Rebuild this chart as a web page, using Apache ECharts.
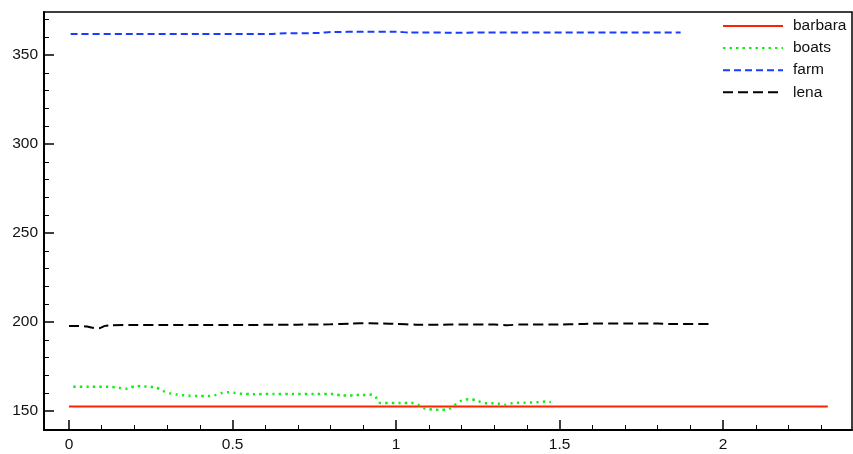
<!DOCTYPE html>
<html>
<head>
<meta charset="utf-8">
<script src="https://cdn.jsdelivr.net/npm/echarts@6/dist/echarts.min.js"></script>
<style>
  html, body { margin: 0; padding: 0; background: #fff; }
  #chart { width: 853px; height: 454px; }
</style>
</head>
<body>
<div id="chart"></div>
<script>
// Series names (legend order)
const seriesNames = ['barbara', 'boats', 'farm', 'lena'];

// barbara
const barbaraX = [0, 0.5, 1, 1.5, 2, 2.32];
const barbaraY = [152.5, 152.5, 152.5, 152.5, 152.5, 152.5];

// boats
const boatsX = [0.013, 0.06, 0.115, 0.14, 0.156, 0.176, 0.19, 0.202, 0.232, 0.25, 0.268, 0.288, 0.309, 0.33, 0.35, 0.37, 0.39, 0.426, 0.446, 0.467, 0.487, 0.505, 0.523, 0.564, 0.625, 0.686, 0.747, 0.808, 0.829, 0.854, 0.88, 0.905, 0.926, 0.941, 0.951, 1.012, 1.048, 1.068, 1.089, 1.124, 1.15, 1.165, 1.18, 1.2, 1.221, 1.242, 1.257, 1.277, 1.297, 1.316, 1.333, 1.354, 1.374, 1.394, 1.415, 1.435, 1.456, 1.473];
const boatsY = [163.6, 163.6, 163.6, 163.3, 162.9, 162.5, 163.2, 164.0, 163.8, 163.6, 163.1, 161.2, 159.9, 159.2, 158.8, 158.5, 158.4, 158.4, 158.8, 160.1, 160.5, 160.2, 159.7, 159.4, 159.6, 159.6, 159.6, 159.6, 158.8, 158.6, 159.0, 159.0, 159.2, 157.1, 154.5, 154.5, 154.5, 153.4, 151.3, 150.7, 150.7, 151.5, 153.4, 155.8, 156.6, 156.3, 155.2, 154.3, 154.3, 154.0, 153.4, 154.3, 154.6, 154.6, 154.8, 155.0, 155.3, 155.0];

// farm
const farmX = [0.005, 0.2, 0.4, 0.62, 0.66, 0.76, 0.8, 0.9, 1.0, 1.04, 1.2, 1.4, 1.6, 1.87];
const farmY = [361.8, 361.8, 361.8, 361.9, 362.2, 362.4, 362.9, 363.1, 363.1, 362.7, 362.6, 362.7, 362.7, 362.7];

// lena
const lenaX = [0, 0.03, 0.055, 0.08, 0.095, 0.11, 0.13, 0.2, 0.3, 0.4, 0.5, 0.6, 0.7, 0.8, 0.86, 0.92, 0.96, 1.0, 1.06, 1.13, 1.2, 1.3, 1.34, 1.38, 1.5, 1.56, 1.6, 1.7, 1.8, 1.84, 1.957];
const lenaY = [197.8, 197.8, 197.5, 196.5, 196.6, 197.8, 198.2, 198.3, 198.3, 198.3, 198.3, 198.4, 198.5, 198.7, 199.1, 199.3, 199.1, 198.9, 198.5, 198.5, 198.6, 198.6, 198.2, 198.6, 198.6, 198.8, 199.1, 199.1, 199.1, 198.9, 198.9];

// Tick positions / labels
const xTicks = [0, 0.5, 1, 1.5, 2];
const xMinorTicks = [0.1, 0.2, 0.3, 0.4, 0.6, 0.7, 0.8, 0.9, 1.1, 1.2, 1.3, 1.4, 1.6, 1.7, 1.8, 1.9, 2.1, 2.2, 2.3];
const yTicks = [150, 200, 250, 300, 350];
const yMinorTicks = [140, 160, 170, 180, 190, 210, 220, 230, 240, 260, 270, 280, 290, 310, 320, 330, 340, 360, 370];

const X_MIN = -0.0765, X_MAX = 2.394;
const Y_MIN = 139.3, Y_MAX = 374.2;

const FONT = 'Liberation Sans, Arial, Helvetica, sans-serif';

function pairs(xs, ys) {
  return xs.map((x, i) => [x, ys[i]]);
}

const chart = echarts.init(document.getElementById('chart'), null, { renderer: 'canvas' });

const baseAxis = {
  type: 'value',
  splitLine: { show: false },
  minorTick: { show: false },
  minorSplitLine: { show: false }
};

const option = {
  backgroundColor: '#fff',
  animation: false,
  grid: {
    left: 44, right: 1, top: 12, bottom: 24,
    show: true, borderColor: '#000', borderWidth: 1.5,
    containLabel: false
  },
  legend: {
    orient: 'vertical',
    left: 722,
    top: 18,
    padding: 0,
    itemWidth: 60,
    itemHeight: 14,
    itemGap: 6.1,
    data: seriesNames,
    itemStyle: { opacity: 0 },
    textStyle: { fontFamily: FONT, fontSize: 15.5, color: '#111', padding: [0, 0, 0, 5] }
  },
  xAxis: [
    Object.assign({}, baseAxis, {
      min: X_MIN, max: X_MAX,
      position: 'bottom',
      axisLine: { show: true, onZero: false, lineStyle: { color: '#000', width: 2 } },
      axisTick: { show: true, inside: true, length: 10, customValues: xTicks, lineStyle: { color: '#000', width: 1.5 } },
      axisLabel: { show: true, customValues: xTicks, margin: 7, fontFamily: FONT, fontSize: 15.5, color: '#111' }
    }),
    Object.assign({}, baseAxis, {
      min: X_MIN, max: X_MAX,
      position: 'bottom',
      axisLine: { show: false, onZero: false },
      axisTick: { show: true, inside: true, length: 5, customValues: xMinorTicks, lineStyle: { color: '#000', width: 1 } },
      axisLabel: { show: false }
    })
  ],
  yAxis: [
    Object.assign({}, baseAxis, {
      min: Y_MIN, max: Y_MAX,
      position: 'left',
      axisLine: { show: true, onZero: false, lineStyle: { color: '#000', width: 2 } },
      axisTick: { show: true, inside: true, length: 10, customValues: yTicks, lineStyle: { color: '#000', width: 1.5 } },
      axisLabel: { show: true, customValues: yTicks, margin: 6, fontFamily: FONT, fontSize: 15.5, color: '#111' }
    }),
    Object.assign({}, baseAxis, {
      min: Y_MIN, max: Y_MAX,
      position: 'left',
      axisLine: { show: false, onZero: false },
      axisTick: { show: true, inside: true, length: 5, customValues: yMinorTicks, lineStyle: { color: '#000', width: 1 } },
      axisLabel: { show: false }
    })
  ],
  series: [
    {
      name: 'barbara', type: 'line', showSymbol: false, symbol: 'none',
      data: pairs(barbaraX, barbaraY),
      lineStyle: { color: '#ff2200', width: 2, type: 'solid' },
      itemStyle: { color: '#ff2200' }
    },
    {
      name: 'boats', type: 'line', showSymbol: false, symbol: 'none', smooth: 0.2,
      data: pairs(boatsX, boatsY),
      lineStyle: { color: '#11ee11', width: 2.5, type: [2.5, 4] },
      itemStyle: { color: '#11ee11' }
    },
    {
      name: 'farm', type: 'line', showSymbol: false, symbol: 'none', smooth: 0.2,
      data: pairs(farmX, farmY),
      lineStyle: { color: '#1a3cff', width: 2, type: [7, 4] },
      itemStyle: { color: '#1a3cff' }
    },
    {
      name: 'lena', type: 'line', showSymbol: false, symbol: 'none', smooth: 0.2,
      data: pairs(lenaX, lenaY),
      lineStyle: { color: '#000', width: 2, type: [10, 5] },
      itemStyle: { color: '#000' }
    }
  ]
};

chart.setOption(option);
</script>
</body>
</html>
